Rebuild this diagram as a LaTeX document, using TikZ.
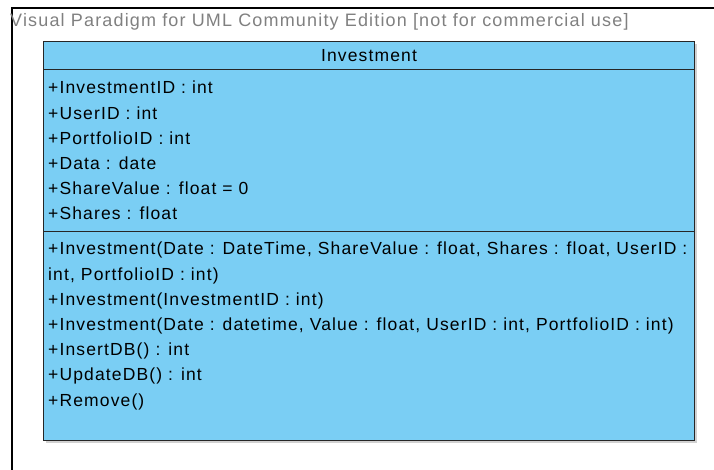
\documentclass[tikz,border=0pt]{standalone}
\usepackage{fontspec}
\setmainfont{Liberation Sans}[LetterSpace=6.5]
\definecolor{classblue}{RGB}{122,206,244}
\definecolor{markgray}{RGB}{128,128,128}
\tikzset{
  compartment/.style={draw=black!85,line width=1.1pt,fill=classblue,minimum width=651,anchor=north west,inner sep=0pt},
  members/.style={anchor=north west,align=left,inner sep=0pt,font=\fontsize{17.5}{25.2}\selectfont}
}
\begin{document}
\begin{tikzpicture}[x=1pt,y=-1pt, every node/.style={font=\fontsize{17.5}{20}\selectfont}]
  \useasboundingbox (0,0) rectangle (714,470);
  \clip (0,0) rectangle (714,470);
  \draw[line width=1.2pt] (12,8) rectangle (760,520);
  \node[anchor=west,inner sep=0pt,text=markgray,font=\fontsize{18}{20}\selectfont] (watermark) at (10,22) {Visual Paradigm for UML Community Edition [not for commercial use]};
  % shadow of the class box
  \fill[black!18] (46,44) rectangle (696.5,443);
  \node[compartment,minimum height=28] (title) at (43,41) {Investment};
  \node[compartment,minimum height=162] (attrs) at (43,69) {};
  \node[compartment,minimum height=209] (ops) at (43,231) {};
  \node[members] (attrtext) at (48,81) {+InvestmentID : int\\ +UserID : int\\ +PortfolioID : int\\ +Data : date\\ +ShareValue : float = 0\\ +Shares : float};
  \node[members] (optext) at (48,242) {+Investment(Date : DateTime, ShareValue : float, Shares : float, UserID :\\ int, PortfolioID : int)\\ +Investment(InvestmentID : int)\\ +Investment(Date : datetime, Value : float, UserID : int, PortfolioID : int)\\ +InsertDB() : int\\ +UpdateDB() : int\\ +Remove()};
\end{tikzpicture}
\end{document}
